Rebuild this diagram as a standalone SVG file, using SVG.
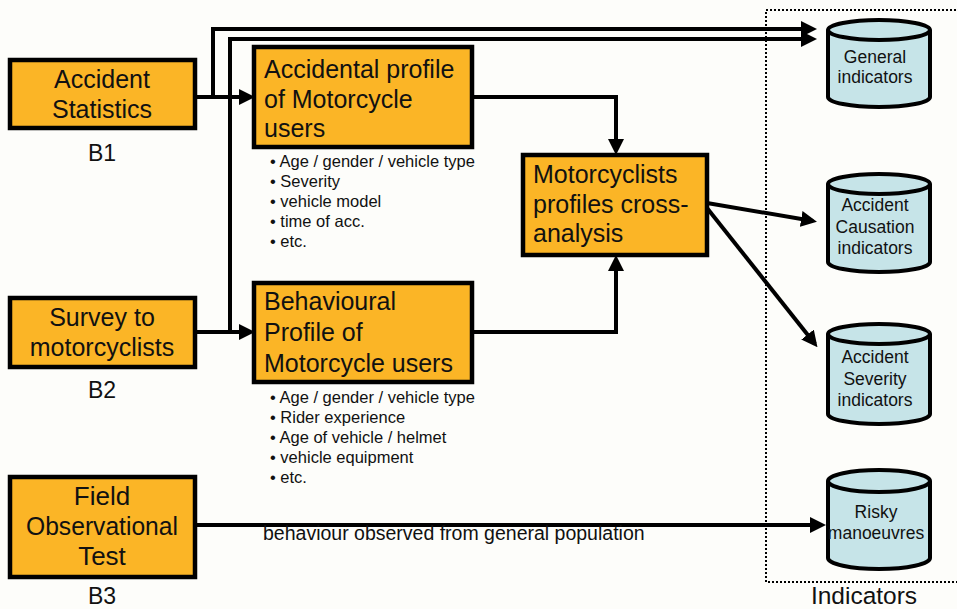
<svg xmlns="http://www.w3.org/2000/svg" width="957" height="609" viewBox="0 0 957 609">
<style>
.box{fill:#FBB526;stroke:#000;stroke-width:4.5}
.cyl{fill:#C6E4E8;stroke:#000;stroke-width:4}
.t{font-family:"Liberation Sans",Arial,sans-serif;fill:#111}
.bt{font-size:25px}
.ct{font-size:17.5px;text-anchor:middle}
.bl{font-size:16.5px}
.c{fill:none;stroke:#000;stroke-width:4}
</style>
<defs>
<marker id="ah" markerWidth="4" markerHeight="4" refX="3" refY="2" orient="auto" markerUnits="strokeWidth">
<path d="M0,0 L4,2 L0,4 z" fill="#000"/>
</marker>
</defs>
<rect width="957" height="609" fill="#FDFDFA"/>
<rect x="766" y="10" width="200" height="572" fill="none" stroke="#000" stroke-width="2" stroke-dasharray="2,2"/>
<text class="t" x="864" y="604" font-size="24.5" text-anchor="middle">Indicators</text>

<g id="connectors">
<path class="c" d="M195,97 H251" marker-end="url(#ah)"/>
<path class="c" d="M213,97 V29 H813" marker-end="url(#ah)"/>
<path class="c" d="M195,332 H251" marker-end="url(#ah)"/>
<path class="c" d="M230,332 V39 H813" marker-end="url(#ah)"/>
<path class="c" d="M472,97 H616 V151" marker-end="url(#ah)"/>
<path class="c" d="M472,332 H616 V259" marker-end="url(#ah)"/>
<path class="c" d="M707,203 L813,221" marker-end="url(#ah)"/>
<path class="c" d="M707,208 L815,344" marker-end="url(#ah)"/>
<path class="c" d="M195,525 H822" marker-end="url(#ah)"/>
<text class="t" x="263" y="540" font-size="19.5">behaviour observed from general population</text>
</g>

<g id="accident-statistics">
<rect class="box" x="10" y="60" width="185" height="68"/>
<text class="t bt" x="102" y="88" text-anchor="middle">Accident</text>
<text class="t bt" x="102" y="118" text-anchor="middle">Statistics</text>
<text class="t" x="102" y="161" font-size="23" text-anchor="middle">B1</text>
</g>

<g id="survey">
<rect class="box" x="10" y="298" width="185" height="69"/>
<text class="t bt" x="102" y="326" text-anchor="middle">Survey to</text>
<text class="t bt" x="102" y="356" text-anchor="middle">motorcyclists</text>
<text class="t" x="102" y="398" font-size="23" text-anchor="middle">B2</text>
</g>

<g id="field">
<rect class="box" x="10" y="477" width="185" height="100"/>
<text class="t" x="102" y="505" font-size="26" text-anchor="middle">Field</text>
<text class="t" x="102" y="535" font-size="26" text-anchor="middle" textLength="152" lengthAdjust="spacingAndGlyphs">Observational</text>
<text class="t" x="102" y="565" font-size="26" text-anchor="middle">Test</text>
<text class="t" x="102" y="604" font-size="23" text-anchor="middle">B3</text>
</g>

<g id="accidental-profile">
<rect class="box" x="254" y="47" width="218" height="100"/>
<text class="t bt" x="264" y="78">Accidental profile</text>
<text class="t bt" x="264" y="108">of Motorcycle</text>
<text class="t bt" x="264" y="137">users</text>
<text class="t bl" x="270" y="167">• Age / gender / vehicle type</text>
<text class="t bl" x="270" y="187">• Severity</text>
<text class="t bl" x="270" y="207">• vehicle model</text>
<text class="t bl" x="270" y="227">• time of acc.</text>
<text class="t bl" x="270" y="247">• etc.</text>
</g>

<g id="behavioural-profile">
<rect class="box" x="254" y="283" width="218" height="99"/>
<text class="t bt" x="264" y="310">Behavioural</text>
<text class="t bt" x="264" y="341">Profile of</text>
<text class="t bt" x="264" y="372">Motorcycle users</text>
<text class="t bl" x="270" y="403">• Age / gender / vehicle type</text>
<text class="t bl" x="270" y="423">• Rider experience</text>
<text class="t bl" x="270" y="443">• Age of vehicle / helmet</text>
<text class="t bl" x="270" y="463">• vehicle equipment</text>
<text class="t bl" x="270" y="483">• etc.</text>
</g>

<g id="cross-analysis">
<rect class="box" x="523" y="155" width="184" height="100"/>
<text class="t bt" x="533" y="183">Motorcyclists</text>
<text class="t bt" x="533" y="213">profiles cross-</text>
<text class="t bt" x="533" y="242">analysis</text>
</g>

<g id="general-indicators">
<path class="cyl" d="M828,30 V97 A51,10 0 0 0 930,97 V30"/>
<ellipse class="cyl" cx="879" cy="30" rx="51" ry="10"/>
<text class="t ct" x="875" y="63" font-size="18">General</text>
<text class="t ct" x="875" y="83" font-size="18">indicators</text>
</g>

<g id="causation-indicators">
<path class="cyl" d="M828,184 V262 A51,10 0 0 0 930,262 V184"/>
<ellipse class="cyl" cx="879" cy="184" rx="51" ry="10"/>
<text class="t ct" x="875" y="211">Accident</text>
<text class="t ct" x="875" y="233">Causation</text>
<text class="t ct" x="875" y="254">indicators</text>
</g>

<g id="severity-indicators">
<path class="cyl" d="M828,334 V414 A51,10 0 0 0 930,414 V334"/>
<ellipse class="cyl" cx="879" cy="334" rx="51" ry="10"/>
<text class="t ct" x="875" y="363">Accident</text>
<text class="t ct" x="875" y="385">Severity</text>
<text class="t ct" x="875" y="406">indicators</text>
</g>

<g id="risky-manoeuvres">
<path class="cyl" d="M828,481 V558 A51,11 0 0 0 930,558 V481"/>
<ellipse class="cyl" cx="879" cy="481" rx="51" ry="11"/>
<text class="t ct" x="876" y="518">Risky</text>
<text class="t ct" x="876" y="539">manoeuvres</text>
</g>
</svg>
